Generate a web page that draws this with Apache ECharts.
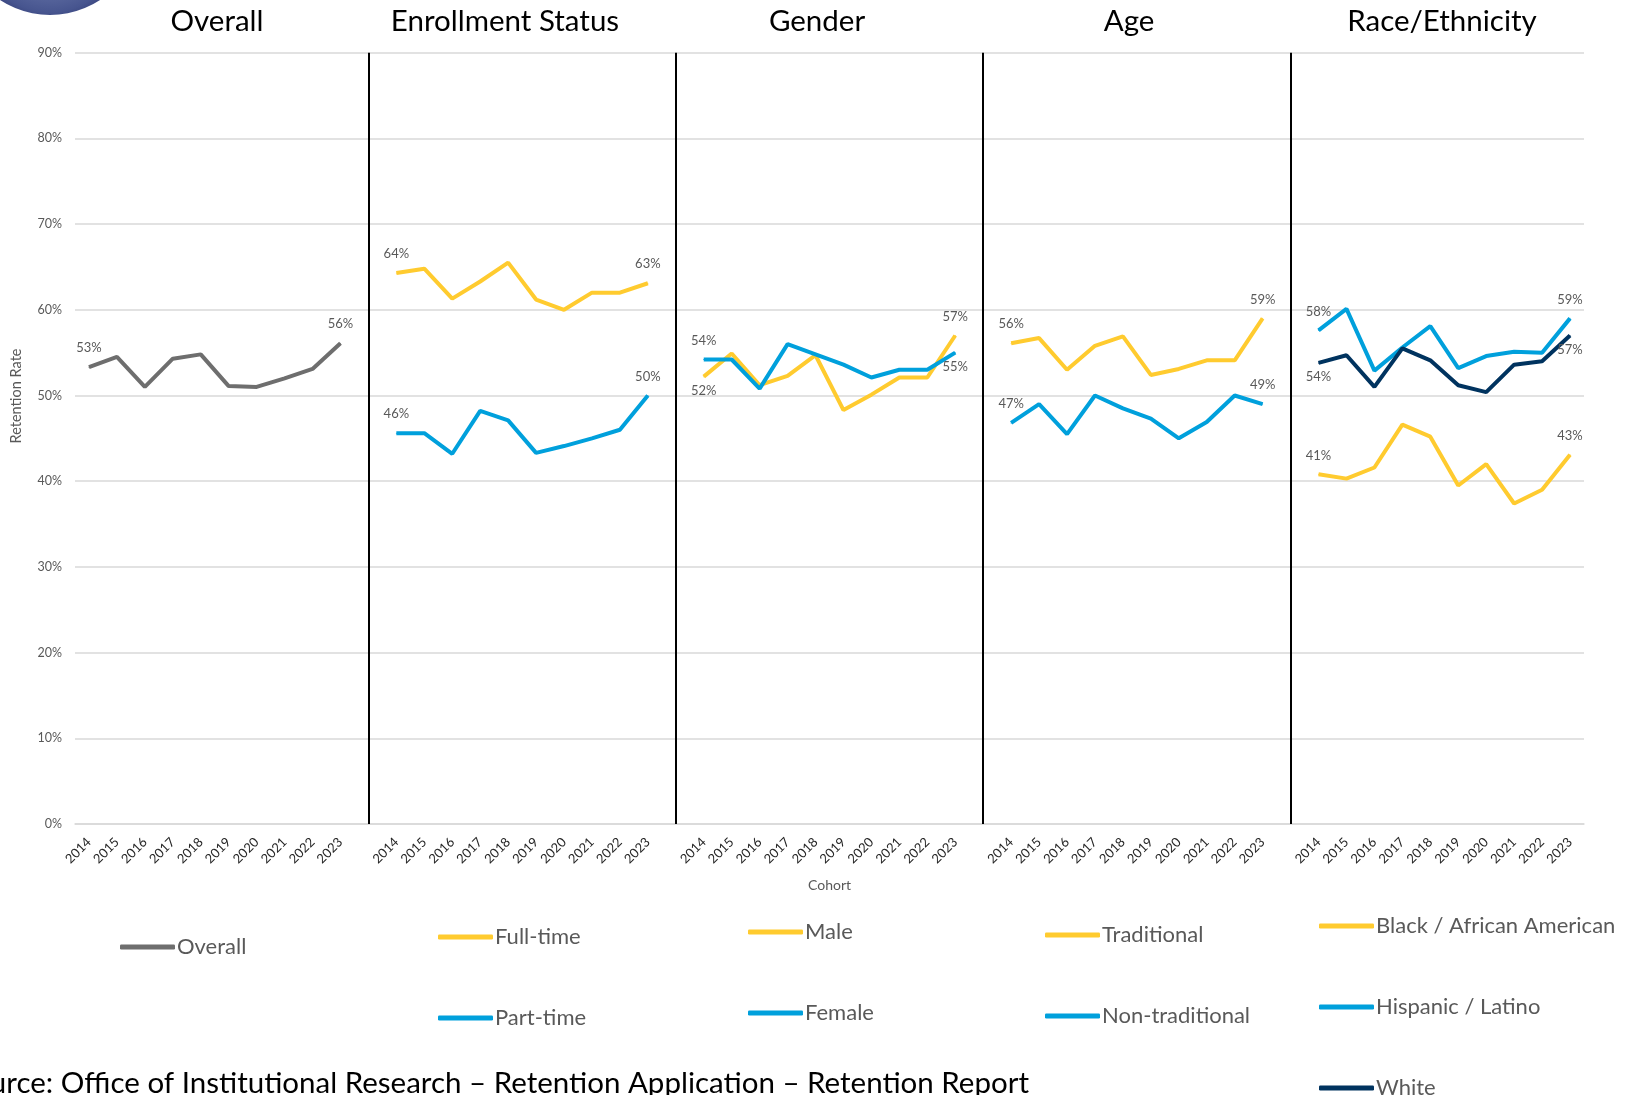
<!DOCTYPE html>
<html>
<head>
<meta charset="utf-8">
<title>Retention Rate by Cohort</title>
<script src="https://cdn.jsdelivr.net/npm/echarts@6/dist/echarts.min.js"></script>
<style>
	html, body { margin: 0; padding: 0; background: #fff; }
	#chartRetencion { width: 1631px; height: 1095px; }
</style>
</head>
<body>
<div id="chartRetencion"></div>
<script>
	// Datos (tasa de retención en %)
	const años = ['2014', '2015', '2016', '2017', '2018', '2019', '2020', '2021', '2022', '2023']
	const grupos = ['Overall', 'Enrollment Status', 'Gender', 'Age', 'Race/Ethnicity']
	const marcasEjeY = [0, 10, 20, 30, 40, 50, 60, 70, 80, 90]

	const overall = [53.3, 54.5, 51.0, 54.3, 54.8, 51.1, 51.0, 52.0, 53.1, 56.1]
	const fullTime = [64.3, 64.8, 61.3, 63.3, 65.5, 61.2, 60.0, 62.0, 62.0, 63.1]
	const partTime = [45.6, 45.6, 43.2, 48.2, 47.1, 43.3, 44.1, 45.0, 46.0, 50.0]
	const male = [52.2, 54.9, 51.2, 52.3, 54.7, 48.3, 50.1, 52.1, 52.1, 57.0]
	const female = [54.2, 54.2, 50.8, 56.0, 54.8, 53.6, 52.1, 53.0, 53.0, 55.0]
	const traditional = [56.1, 56.7, 53.0, 55.8, 56.9, 52.4, 53.1, 54.1, 54.1, 59.0]
	const nonTraditional = [46.8, 49.0, 45.5, 50.0, 48.5, 47.3, 45.0, 46.9, 50.0, 49.0]
	const black = [40.8, 40.3, 41.6, 46.6, 45.2, 39.5, 42.0, 37.4, 39.0, 43.1]
	const hispanic = [57.6, 60.1, 52.9, 55.6, 58.1, 53.2, 54.6, 55.1, 55.0, 59.0]
	const white = [53.8, 54.7, 51.0, 55.5, 54.1, 51.2, 50.4, 53.6, 54.0, 57.0]

	const tituloEjeY = 'Retention Rate'
	const fuente = 'Source: Office of Institutional Research \u2013 Retention Application \u2013 Retention Report'

	// Colores
	const amarillo = '#FFCB2F'
	const azul = '#00A0DC'
	const marino = '#00335F'
	const gris = '#6E6E6E'
	const textoGris = '#595959'

	// Series: nombre, grupo, valores, color, posición de etiqueta [primera, última]
	const series = [
		{ nombre: 'Overall', grupo: 0, valores: overall, color: gris, etiquetas: ['top', 'top'] },
		{ nombre: 'Full-time', grupo: 1, valores: fullTime, color: amarillo, etiquetas: ['top', 'top'] },
		{ nombre: 'Part-time', grupo: 1, valores: partTime, color: azul, etiquetas: ['top', 'top'] },
		{ nombre: 'Male', grupo: 2, valores: male, color: amarillo, etiquetas: ['bottom', 'top'] },
		{ nombre: 'Female', grupo: 2, valores: female, color: azul, etiquetas: ['top', 'bottom'] },
		{ nombre: 'Traditional', grupo: 3, valores: traditional, color: amarillo, etiquetas: ['top', 'top'] },
		{ nombre: 'Non-traditional', grupo: 3, valores: nonTraditional, color: azul, etiquetas: ['top', 'top'] },
		{ nombre: 'Black / African American', grupo: 4, valores: black, color: amarillo, etiquetas: ['top', 'top'] },
		{ nombre: 'Hispanic / Latino', grupo: 4, valores: hispanic, color: azul, etiquetas: ['top', 'top'] },
		{ nombre: 'White', grupo: 4, valores: white, color: marino, etiquetas: ['bottom', 'bottom'] },
	]

	// Posiciones de títulos y leyendas (en píxeles)
	const títulosX = [217, 505, 817, 1129, 1442]
	const leyendas = [
		{ left: 120, top: 935 },
		{ left: 438, top: 925 },
		{ left: 748, top: 920 },
		{ left: 1045, top: 923 },
		{ left: 1319, top: 914 },
	]

	// Categorías: 10 años por grupo con un hueco entre grupos
	const categorías = []
	const huecos = []
	grupos.forEach((g, gi) => {
		if (gi > 0) {
			const hueco = 'hueco' + gi + '|'
			categorías.push(hueco)
			huecos.push(hueco)
		}
		años.forEach((a) => categorías.push(g + '|' + a))
	})

	function armarDatos(s) {
		const datos = categorías.map(() => null)
		const inicio = s.grupo * (años.length + 1)
		s.valores.forEach((v, i) => {
			const item = { value: v }
			if (i === 0 || i === s.valores.length - 1) {
				const pos = s.etiquetas[i === 0 ? 0 : 1]
				item.label = {
					show: true,
					position: pos,
					distance: pos === 'top' ? 12 : 7,
				}
			}
			datos[inicio + i] = item
		})
		return datos
	}

	const fuenteTexto = 'Lato, "Open Sans", sans-serif'

	const chart = echarts.init(document.getElementById('chartRetencion'))

	const opciones = {
		animation: false,
		backgroundColor: '#fff',
		textStyle: { fontFamily: fuenteTexto },
		grid: {
			left: 75,
			right: 47,
			top: 52.7,
			bottom: 271,
		},
		xAxis: {
			type: 'category',
			data: categorías,
			boundaryGap: true,
			name: 'Cohort',
			nameLocation: 'middle',
			nameGap: 54,
			nameTextStyle: { fontSize: 14, color: textoGris, fontFamily: fuenteTexto },
			axisLine: { show: true, lineStyle: { color: '#D9D9D9', width: 1.5 } },
			axisTick: { show: false },
			axisLabel: {
				interval: 0,
				rotate: 45,
				margin: 16,
				fontSize: 13,
				color: '#262626',
				fontFamily: fuenteTexto,
				formatter: (v) => v.split('|')[1],
			},
			splitLine: { show: false },
		},
		yAxis: {
			type: 'value',
			min: marcasEjeY[0],
			max: marcasEjeY[marcasEjeY.length - 1],
			interval: marcasEjeY[1] - marcasEjeY[0],
			axisLine: { show: false },
			axisTick: { show: false },
			axisLabel: {
				fontSize: 12.5,
				color: textoGris,
				margin: 13,
				fontFamily: fuenteTexto,
				formatter: '{value}%',
			},
			splitLine: { lineStyle: { color: '#D9D9D9', width: 1.5 } },
		},
		legend: grupos.map((g, gi) => ({
			orient: 'vertical',
			left: leyendas[gi].left,
			top: leyendas[gi].top,
			height: 240,
			padding: 0,
			itemGap: 57,
			itemWidth: 55,
			itemHeight: 5,
			icon: 'roundRect',
			selectedMode: false,
			textStyle: {
				fontSize: 22,
				lineHeight: 24,
				color: textoGris,
				fontFamily: fuenteTexto,
				padding: [0, 0, 0, -3],
			},
			data: series.filter((s) => s.grupo === gi).map((s) => s.nombre),
		})),
		series: series.map((s, si) => {
			const serie = {
				name: s.nombre,
				type: 'line',
				data: armarDatos(s),
				symbol: 'circle',
				symbolSize: 1,
				showSymbol: true,
				color: s.color,
				itemStyle: { color: s.color },
				lineStyle: { width: 4, color: s.color },
				z: 3 + si,
				emphasis: { disabled: true },
				label: {
					show: false,
					fontSize: 13,
					color: textoGris,
					opacity: 1,
					fontFamily: fuenteTexto,
					formatter: (p) => Math.round(p.value) + '%',
				},
			}
			// Líneas divisorias negras entre grupos
			if (si === 0) {
				serie.markLine = {
					silent: true,
					symbol: 'none',
					label: { show: false },
					lineStyle: { color: '#000', width: 2, type: 'solid' },
					data: huecos.map((h) => ({ xAxis: h })),
				}
			}
			return serie
		}),
		graphic: [
			// Fragmento del logo arriba a la izquierda
			{
				type: 'circle',
				shape: { cx: 50, cy: -76, r: 91 },
				style: {
					fill: new echarts.graphic.RadialGradient(0.5, 0.6, 0.55, [
						{ offset: 0, color: '#8e9cc8' },
						{ offset: 0.7, color: '#47558f' },
						{ offset: 0.9, color: '#232d66' },
						{ offset: 1, color: '#10163e' },
					]),
				},
				silent: true,
			},
			// Título del eje Y
			{
				type: 'text',
				x: 16,
				y: 396,
				rotation: Math.PI / 2,
				style: {
					text: tituloEjeY,
					fontSize: 14.5,
					fontFamily: fuenteTexto,
					fill: textoGris,
					align: 'center',
					verticalAlign: 'middle',
				},
				silent: true,
			},
			...grupos.map((g, gi) => ({
				type: 'text',
				x: títulosX[gi],
				y: 21,
				style: {
					text: g,
					fontSize: 29.5,
					fontFamily: fuenteTexto,
					fill: '#000',
					align: 'center',
					verticalAlign: 'middle',
				},
				silent: true,
			})),
			{
				type: 'text',
				x: 1029,
				y: 1083,
				style: {
					text: fuente,
					fontSize: 29.5,
					fontFamily: fuenteTexto,
					fill: '#000',
					align: 'right',
					verticalAlign: 'middle',
				},
				silent: true,
			},
		],
	}

	chart.setOption(opciones)
</script>
</body>
</html>
